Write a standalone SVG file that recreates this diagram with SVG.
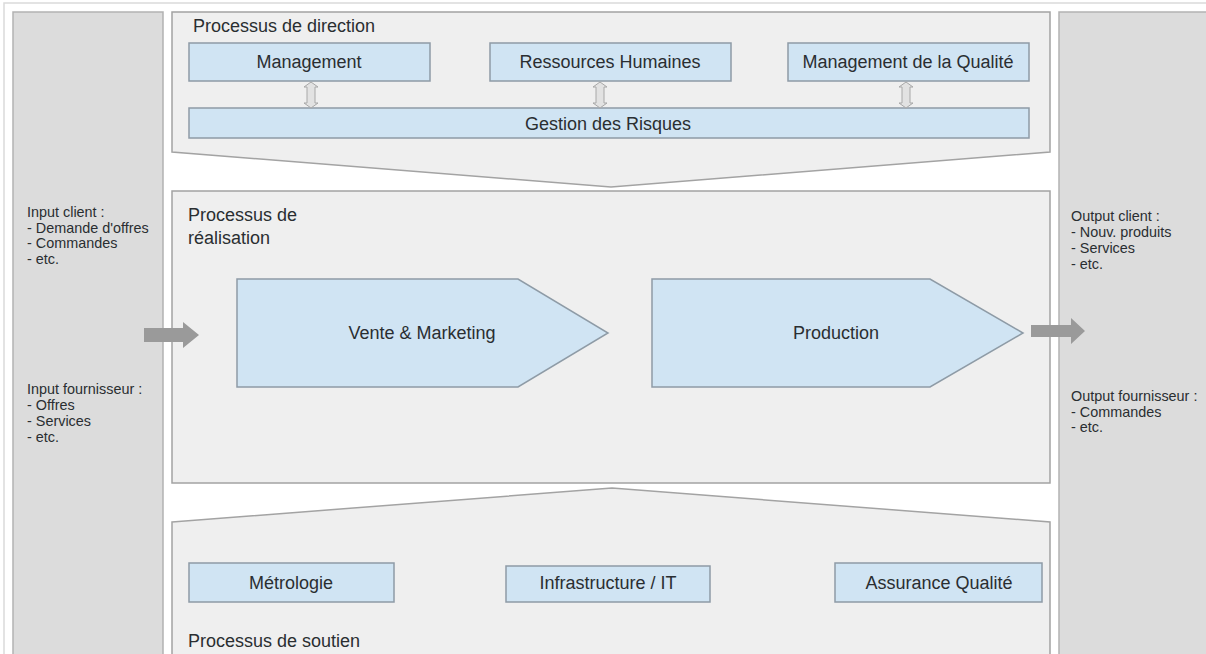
<svg xmlns="http://www.w3.org/2000/svg" width="1206" height="654" viewBox="0 0 1206 654">
<style>
.bg{fill:#ffffff}
.frame{fill:none;stroke:#dadada;stroke-width:1.5}
.side{fill:#dcdcdc;stroke:#b2b2b2;stroke-width:1.5}
.panel{fill:#efefef;stroke:#a3a3a3;stroke-width:1.5}
.box{fill:#d0e4f3;stroke:#8e9ba6;stroke-width:1.5}
.dbl{fill:#e2e2e2;stroke:#a8a8a8;stroke-width:1}
.flow{fill:#9a9a9a}
text{font-family:"Liberation Sans",Arial,sans-serif;fill:#2a2e31}
.t18{font-size:18px}
.c{text-anchor:middle}
.t14{font-size:14.4px}
</style>
<rect class="bg" x="0" y="0" width="1206" height="654"/>
<rect class="frame" x="4" y="3" width="1212" height="670"/>

<g id="left-column">
<rect class="side" x="13" y="12" width="150" height="660"/>
<text class="t14" x="27" y="217">Input client :</text>
<text class="t14" x="27" y="233">- Demande d'offres</text>
<text class="t14" x="27" y="248">- Commandes</text>
<text class="t14" x="27" y="264">- etc.</text>
<text class="t14" x="27" y="394">Input fournisseur :</text>
<text class="t14" x="27" y="410">- Offres</text>
<text class="t14" x="27" y="426">- Services</text>
<text class="t14" x="27" y="442">- etc.</text>
</g>

<g id="right-column">
<rect class="side" x="1059" y="12" width="170" height="660"/>
<text class="t14" x="1071" y="221">Output client :</text>
<text class="t14" x="1071" y="237">- Nouv. produits</text>
<text class="t14" x="1071" y="253">- Services</text>
<text class="t14" x="1071" y="269">- etc.</text>
<text class="t14" x="1071" y="401">Output fournisseur :</text>
<text class="t14" x="1071" y="417">- Commandes</text>
<text class="t14" x="1071" y="432">- etc.</text>
</g>

<g id="processus-direction">
<polygon class="panel" points="172,12 1050,12 1050,152 611,187 172,152"/>
<text class="t18" x="193" y="32">Processus de direction</text>
</g>

<g id="management">
<rect class="box" x="189" y="43" width="241" height="38"/>
<text class="t18 c" x="309" y="68">Management</text>
</g>
<g id="ressources-humaines">
<rect class="box" x="490" y="43" width="241" height="38"/>
<text class="t18 c" x="610" y="68">Ressources Humaines</text>
</g>
<g id="management-qualite">
<rect class="box" x="788" y="43" width="241" height="38"/>
<text class="t18 c" x="908" y="68">Management de la Qualité</text>
</g>
<g id="gestion-risques">
<rect class="box" x="189" y="108" width="840" height="30"/>
<text class="t18 c" x="608" y="130">Gestion des Risques</text>
</g>

<g id="processus-realisation">
<rect class="panel" x="172" y="191" width="878" height="292"/>
<text class="t18" x="188" y="221">Processus de</text>
<text class="t18" x="188" y="244">réalisation</text>
</g>

<g id="vente-marketing">
<polygon class="box" points="237,279 518,279 608,333 518,387 237,387"/>
<text class="t18 c" x="422" y="339">Vente &amp; Marketing</text>
</g>
<g id="production">
<polygon class="box" points="652,279 930,279 1023,333 930,387 652,387"/>
<text class="t18 c" x="836" y="339">Production</text>
</g>

<g id="processus-soutien">
<polygon class="panel" points="172,522 612,488 1050,522 1050,670 172,670"/>
<text class="t18" x="188" y="647">Processus de soutien</text>
</g>

<g id="metrologie">
<rect class="box" x="189" y="563" width="205" height="39"/>
<text class="t18 c" x="291" y="589">Métrologie</text>
</g>
<g id="infrastructure">
<rect class="box" x="506" y="566" width="204" height="36"/>
<text class="t18 c" x="608" y="589">Infrastructure / IT</text>
</g>
<g id="assurance-qualite">
<rect class="box" x="835" y="563" width="207" height="39"/>
<text class="t18 c" x="939" y="589">Assurance Qualité</text>
</g>

<g id="connectors">
<polygon class="dbl" points="311,82 318,87 315,87 315,103 318,103 311,108 304,103 307,103 307,87 304,87"/>
<polygon class="dbl" points="600,82 607,87 604,87 604,103 607,103 600,108 593,103 596,103 596,87 593,87"/>
<polygon class="dbl" points="906,82 913,87 910,87 910,103 913,103 906,108 899,103 902,103 902,87 899,87"/>
<polygon class="flow" points="144,328 183,328 183,322 199,335 183,348 183,342 144,342"/>
<polygon class="flow" points="1031,325 1071,325 1071,318 1085,331 1071,344 1071,337 1031,337"/>
</g>
</svg>
